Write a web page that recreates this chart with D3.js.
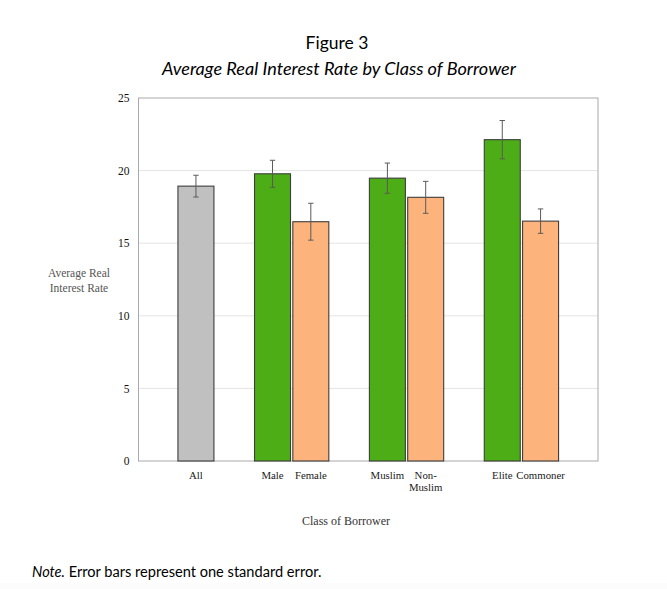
<!DOCTYPE html>
<html>
<head>
<meta charset="utf-8">
<script src="https://cdn.jsdelivr.net/npm/d3@7"></script>
<style>
html,body{margin:0;padding:0;background:#fff;}
svg{display:block;}
</style>
</head>
<body>
<svg id="chart" width="667" height="589"></svg>
<script>
// ---- data ----
const groups = [["All"], ["Male", "Female"], ["Muslim", "Non-Muslim"], ["Elite", "Commoner"]];
const categories = ["All", "Male", "Female", "Muslim", "Non-Muslim", "Elite", "Commoner"];
const values = [18.93, 19.78, 16.48, 19.48, 18.16, 22.13, 16.52];
const stdErrors = [0.75, 0.93, 1.27, 1.04, 1.10, 1.32, 0.84];
const classes = ["all", "yes", "no", "yes", "no", "yes", "no"];
const yTicks = [0, 5, 10, 15, 20, 25];

const colors = {all: "#c0c0c0", yes: "#4dad16", no: "#fcb37c"};

const svg = d3.select("#chart");
svg.append("rect").attr("x",0).attr("y",583).attr("width",667).attr("height",6).attr("fill","#fcfcfc");

const margin = {left: 138.5, right: 598, top: 98, bottom: 461};

// build slot domain: spacer slots between groups
const slots = [];
let sp = 0;
slots.push("_s" + (sp++));
groups.forEach(g => { g.forEach(c => slots.push(c)); slots.push("_s" + (sp++)); });

const x = d3.scaleBand().domain(slots).range([margin.left, margin.right]).paddingInner(0.06).paddingOuter(0.03);
const y = d3.scaleLinear().domain([0, 25]).range([margin.bottom, margin.top]);

// gridlines
svg.append("g").selectAll("line").data(yTicks.filter(t => t > 0 && t < 25)).join("line")
  .attr("x1", margin.left).attr("x2", margin.right)
  .attr("y1", d => y(d)).attr("y2", d => y(d))
  .attr("stroke", "#e4e4e4").attr("stroke-width", 1);

// plot border
svg.append("rect").attr("x", margin.left).attr("y", margin.top)
  .attr("width", margin.right - margin.left).attr("height", margin.bottom - margin.top)
  .attr("fill", "none").attr("stroke", "#a9a9a9").attr("stroke-width", 1);

// y axis
const yAxis = d3.axisLeft(y).tickValues(yTicks).tickSize(0).tickPadding(9);
const ga = svg.append("g").attr("transform", `translate(${margin.left},0)`).call(yAxis);
ga.select(".domain").remove();
ga.selectAll("text").attr("font-family", "'Liberation Serif', 'Times New Roman', serif")
  .attr("font-size", 11.5).attr("fill", "#111");

// bars
const data = categories.map((c, i) => ({c, v: values[i], se: stdErrors[i], k: classes[i]}));
svg.append("g").selectAll("rect").data(data).join("rect")
  .attr("x", d => x(d.c)).attr("width", x.bandwidth())
  .attr("y", d => y(d.v)).attr("height", d => y(0) - y(d.v))
  .attr("fill", d => colors[d.k]).attr("stroke", "#3d3d3d").attr("stroke-width", 1.1);

// error bars
const eg = svg.append("g").attr("stroke", "#5a5a5a").attr("stroke-width", 1);
data.forEach(d => {
  const cx = x(d.c) + x.bandwidth() / 2;
  eg.append("line").attr("x1", cx).attr("x2", cx).attr("y1", y(d.v + d.se)).attr("y2", y(d.v - d.se));
  eg.append("line").attr("x1", cx - 2.7).attr("x2", cx + 2.7).attr("y1", y(d.v + d.se)).attr("y2", y(d.v + d.se));
  eg.append("line").attr("x1", cx - 2.7).attr("x2", cx + 2.7).attr("y1", y(d.v - d.se)).attr("y2", y(d.v - d.se));
});

// category labels
const lab = svg.append("g").attr("font-family", "'Liberation Serif', 'Times New Roman', serif")
  .attr("font-size", 10.8).attr("fill", "#1a1a1a").attr("text-anchor", "middle");
data.forEach(d => {
  const cx = x(d.c) + x.bandwidth() / 2;
  const parts = d.c === "Non-Muslim" ? ["Non-", "Muslim"] : [d.c];
  const t = lab.append("text").attr("x", cx).attr("y", 479);
  parts.forEach((p, i) => t.append("tspan").attr("x", cx).attr("dy", i === 0 ? 0 : 12).text(p));
});

// axis titles
svg.append("text").attr("x", 346).attr("y", 525).attr("text-anchor", "middle")
  .attr("font-family", "'Liberation Serif', 'Times New Roman', serif").attr("font-size", 12)
  .attr("fill", "#333").text("Class of Borrower");
const yt = svg.append("text").attr("text-anchor", "middle")
  .attr("font-family", "'Liberation Serif', 'Times New Roman', serif").attr("font-size", 11.5)
  .attr("fill", "#555");
yt.append("tspan").attr("x", 79).attr("y", 276.5).text("Average Real");
yt.append("tspan").attr("x", 79).attr("y", 291.5).text("Interest Rate");

// titles
svg.append("text").attr("x", 337).attr("y", 49).attr("text-anchor", "middle")
  .attr("font-family", "Lato, 'Open Sans', sans-serif").attr("font-size", 17.5).attr("fill", "#000")
  .text("Figure 3");
svg.append("text").attr("x", 339).attr("y", 75).attr("text-anchor", "middle")
  .attr("font-family", "Lato, 'Open Sans', sans-serif").attr("font-size", 18.1).attr("font-style", "italic")
  .attr("fill", "#000").text("Average Real Interest Rate by Class of Borrower");

const note = svg.append("text").attr("x", 32).attr("y", 577)
  .attr("font-family", "Lato, 'Open Sans', sans-serif").attr("font-size", 14.6).attr("fill", "#000");
note.append("tspan").attr("font-style", "italic").text("Note.");
note.append("tspan").text(" Error bars represent one standard error.");
</script>
</body>
</html>
